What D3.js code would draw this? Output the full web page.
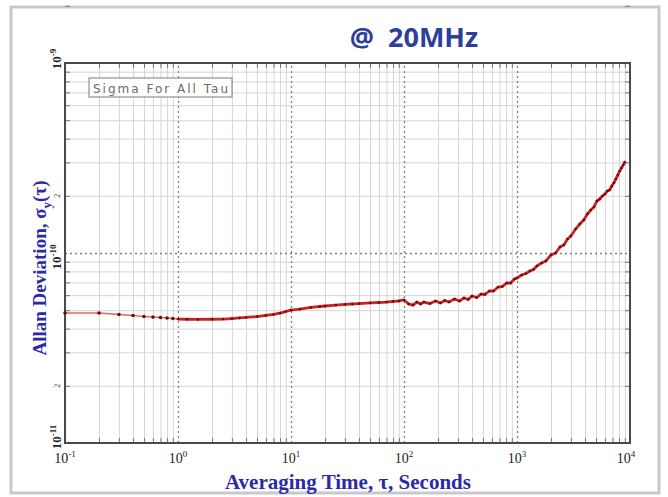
<!DOCTYPE html>
<html>
<head>
<meta charset="utf-8">
<script src="https://cdn.jsdelivr.net/npm/d3@7/dist/d3.min.js"></script>
<style>
  html, body { margin: 0; padding: 0; background: #fff; }
  svg { display: block; }
</style>
</head>
<body>
<svg id="chart" width="668" height="497"></svg>
<script>
// ---- data ----
const title = "@  20MHz";
const legendLabel = "Sigma For All Tau";
const xTitle = "Averaging Time, \u03C4, Seconds";
const tau = [
  0.1, 0.2, 0.3, 0.4, 0.5, 0.6, 0.7, 0.8, 0.9,
  1, 1.2, 1.5, 2, 2.5, 3, 3.5, 4, 5, 6, 7, 8, 9, 10,
  12, 15, 18, 20, 25, 30, 35, 40, 50, 60, 70, 80, 90, 100,
  110, 120, 130, 140, 150, 170, 190, 210, 230, 250, 280, 310, 340, 370, 400,
  440, 480, 520, 570, 620, 680, 740, 810, 880, 950, 1000,
  1100, 1200, 1300, 1400, 1500, 1650, 1800, 2000, 2200, 2400, 2600, 2800, 3000,
  3300, 3600, 3900, 4200, 4500, 4800, 5100, 5400, 5700, 6000, 6300, 6600, 6900,
  7200, 7500, 7800, 8100, 8400, 8700, 9000
];
const sigma = [
  4.83e-11, 4.83e-11, 4.75e-11, 4.69e-11, 4.63e-11, 4.60e-11, 4.58e-11, 4.55e-11, 4.52e-11,
  4.49e-11, 4.48e-11, 4.47e-11, 4.48e-11, 4.49e-11, 4.52e-11, 4.55e-11, 4.58e-11, 4.63e-11, 4.69e-11, 4.75e-11, 4.83e-11, 4.92e-11, 5.01e-11,
  5.07e-11, 5.17e-11, 5.23e-11, 5.26e-11, 5.32e-11, 5.36e-11, 5.39e-11, 5.42e-11, 5.46e-11, 5.49e-11, 5.52e-11, 5.56e-11, 5.59e-11, 5.66e-11,
  5.39e-11, 5.32e-11, 5.52e-11, 5.39e-11, 5.52e-11, 5.42e-11, 5.59e-11, 5.46e-11, 5.62e-11, 5.52e-11, 5.73e-11, 5.59e-11, 5.80e-11, 5.69e-11, 5.94e-11,
  5.83e-11, 6.08e-11, 6.05e-11, 6.31e-11, 6.31e-11, 6.62e-11, 6.66e-11, 6.95e-11, 6.95e-11, 7.30e-11, 7.39e-11,
  7.66e-11, 7.80e-11, 8.04e-11, 8.19e-11, 8.54e-11, 8.86e-11, 9.08e-11, 9.76e-11, 1.00e-10, 1.075e-10, 1.102e-10, 1.185e-10, 1.229e-10,
  1.337e-10, 1.421e-10, 1.492e-10, 1.604e-10, 1.684e-10, 1.747e-10, 1.878e-10, 1.924e-10, 1.995e-10, 2.044e-10, 2.120e-10, 2.146e-10, 2.252e-10,
  2.335e-10, 2.452e-10, 2.573e-10, 2.702e-10, 2.802e-10, 2.905e-10, 3.012e-10
];
const xMajor = [0.1, 1, 10, 100, 1000, 10000];
const xExp = ["-1", "0", "1", "2", "3", "4"];
const yMajor = [1e-11, 1e-10, 1e-9];
const yExp = ["-11", "-10", "-9"];
const yMinorLabeled = [2e-11, 2e-10];

// ---- layout ----
const L = 65, R = 630, T = 63, B = 443;
const svg = d3.select("#chart");
const x = d3.scaleLog().domain([0.1, 10000]).range([L, R]);
const y = d3.scaleLog().domain([1e-11, 1e-9]).range([B, T]);

// outer frame
svg.append("rect").attr("x", 11).attr("y", 7).attr("width", 648).attr("height", 486)
  .attr("fill", "#fff").attr("stroke", "#c9c9c9").attr("stroke-width", 3);

function minors(lo, hi) {
  const out = [];
  for (let d = lo; d < hi; d *= 10) for (let k = 2; k <= 9; k++) out.push(d * k);
  return out;
}
const xMin = minors(0.1, 10000);
const yMin = minors(1e-11, 1e-9);

// minor grid via axes
const gxMinor = svg.append("g").attr("transform", `translate(0,${B})`)
  .call(d3.axisBottom(x).tickValues(xMin).tickSize(-(B - T)).tickFormat(""));
gxMinor.select(".domain").remove();
gxMinor.selectAll("line").attr("stroke", "#d6d6d6").attr("stroke-width", 1);

const gyMinor = svg.append("g").attr("transform", `translate(${L},0)`)
  .call(d3.axisLeft(y).tickValues(yMin).tickSize(-(R - L)).tickFormat(""));
gyMinor.select(".domain").remove();
gyMinor.selectAll("line").attr("stroke", "#d6d6d6").attr("stroke-width", 1);

// major dotted grid
const gxMajor = svg.append("g").attr("transform", `translate(0,${B})`)
  .call(d3.axisBottom(x).tickValues(xMajor.slice(1, -1)).tickSize(-(B - T)).tickFormat(""));
gxMajor.select(".domain").remove();
gxMajor.selectAll("line").attr("stroke", "#808080").attr("stroke-width", 1.3).attr("stroke-dasharray", "2,3");

const gyMajor = svg.append("g").attr("transform", `translate(${L},0)`)
  .call(d3.axisLeft(y).tickValues([1e-10]).tickSize(-(R - L)).tickFormat(""));
gyMajor.select(".domain").remove();
gyMajor.selectAll("line").attr("stroke", "#808080").attr("stroke-width", 1.3).attr("stroke-dasharray", "2,3");

// small inward ticks on border
[[d3.axisBottom(x), `translate(0,${B})`, -5, xMin],
 [d3.axisTop(x), `translate(0,${T})`, -5, xMin],
 [d3.axisLeft(y), `translate(${L},0)`, -5, yMin],
 [d3.axisRight(y), `translate(${R},0)`, -5, yMin]].forEach(([ax, tr, s, v]) => {
  const g = svg.append("g").attr("transform", tr).call(ax.tickValues(v).tickSize(s).tickFormat(""));
  g.select(".domain").remove();
  g.selectAll("line").attr("stroke", "#777").attr("stroke-width", 1);
});

// plot border
svg.append("rect").attr("x", L).attr("y", T).attr("width", R - L).attr("height", B - T)
  .attr("fill", "none").attr("stroke", "#4a4a4a").attr("stroke-width", 2);

// legend box
svg.append("rect").attr("x", 89).attr("y", 78).attr("width", 143).attr("height", 19)
  .attr("fill", "#fff").attr("stroke", "#7a7a7a").attr("stroke-width", 1);
svg.append("text").attr("x", 93).attr("y", 92.5)
  .attr("font-family", "DejaVu Sans").attr("font-size", 12).attr("fill", "#6a6a6a")
  .attr("textLength", 135).attr("lengthAdjust", "spacing")
  .text(legendLabel);

// data line + markers
const pts = tau.map((t, i) => [t, sigma[i]]);
const line = d3.line().x(d => x(d[0])).y(d => y(d[1]));
const early = pts.filter(d => d[0] <= 1);
const late = pts.filter(d => d[0] >= 1);
svg.append("path").datum(early).attr("d", line)
  .attr("fill", "none").attr("stroke", "#e06a6a").attr("stroke-width", 1.6);
svg.append("path").datum(late).attr("d", line)
  .attr("fill", "none").attr("stroke", "#cc2424").attr("stroke-width", 2.8)
  .attr("stroke-linejoin", "round");
svg.append("g").selectAll("circle").data(pts).join("circle")
  .attr("cx", d => x(d[0])).attr("cy", d => y(d[1])).attr("r", d => d[0] < 1 ? 1.8 : 1.3)
  .attr("fill", "#6e0a0a");

// x tick labels
const xl = svg.append("g");
xMajor.forEach((v, i) => {
  const t = xl.append("text").attr("x", x(v) - (i === xMajor.length - 1 ? 4 : 0)).attr("y", 463)
    .attr("text-anchor", "middle").attr("font-family", "Liberation Serif")
    .attr("font-size", 14).attr("fill", "#222");
  t.append("tspan").text("10");
  t.append("tspan").attr("dy", -6).attr("font-size", 9).text(xExp[i]);
});

// y tick labels (rotated)
const yOff = [-6, 4, -4];
yMajor.forEach((v, i) => {
  const cy = y(v) + yOff[i];
  const t = svg.append("text").attr("transform", `translate(61,${cy}) rotate(-90)`)
    .attr("text-anchor", "middle").attr("font-family", "Liberation Serif")
    .attr("font-weight", "bold").attr("font-size", 13).attr("fill", "#222");
  t.append("tspan").text("10");
  t.append("tspan").attr("dy", -5).attr("font-size", 9).text(yExp[i]);
});
yMinorLabeled.forEach(v => {
  svg.append("text").attr("transform", `translate(60,${y(v)}) rotate(-90)`)
    .attr("text-anchor", "middle").attr("font-family", "Liberation Serif")
    .attr("font-size", 8).attr("fill", "#444").text("2");
});

// titles
svg.append("text").attr("x", 414).attr("y", 47).attr("text-anchor", "middle")
  .attr("xml:space", "preserve").style("white-space", "pre")
  .attr("font-family", "Open Sans").attr("font-weight", "bold").attr("font-size", 27)
  .attr("fill", "#2d3f9a").text(title);

svg.append("text").attr("x", 348).attr("y", 489).attr("text-anchor", "middle")
  .attr("font-family", "Liberation Serif").attr("font-weight", "bold").attr("font-size", 21)
  .attr("fill", "#2a2aa8")
  .text(xTitle);

const yt = svg.append("text").attr("transform", "translate(46,268) rotate(-90)")
  .attr("text-anchor", "middle").attr("font-family", "Liberation Serif")
  .attr("font-weight", "bold").attr("font-size", 19).attr("fill", "#2a2aa8");
yt.append("tspan").text("Allan Deviation, \u03C3");
yt.append("tspan").attr("font-size", 13).attr("dy", 5).text("y");
yt.append("tspan").attr("dy", -5).text("(\u03C4)");
</script>
</body>
</html>
